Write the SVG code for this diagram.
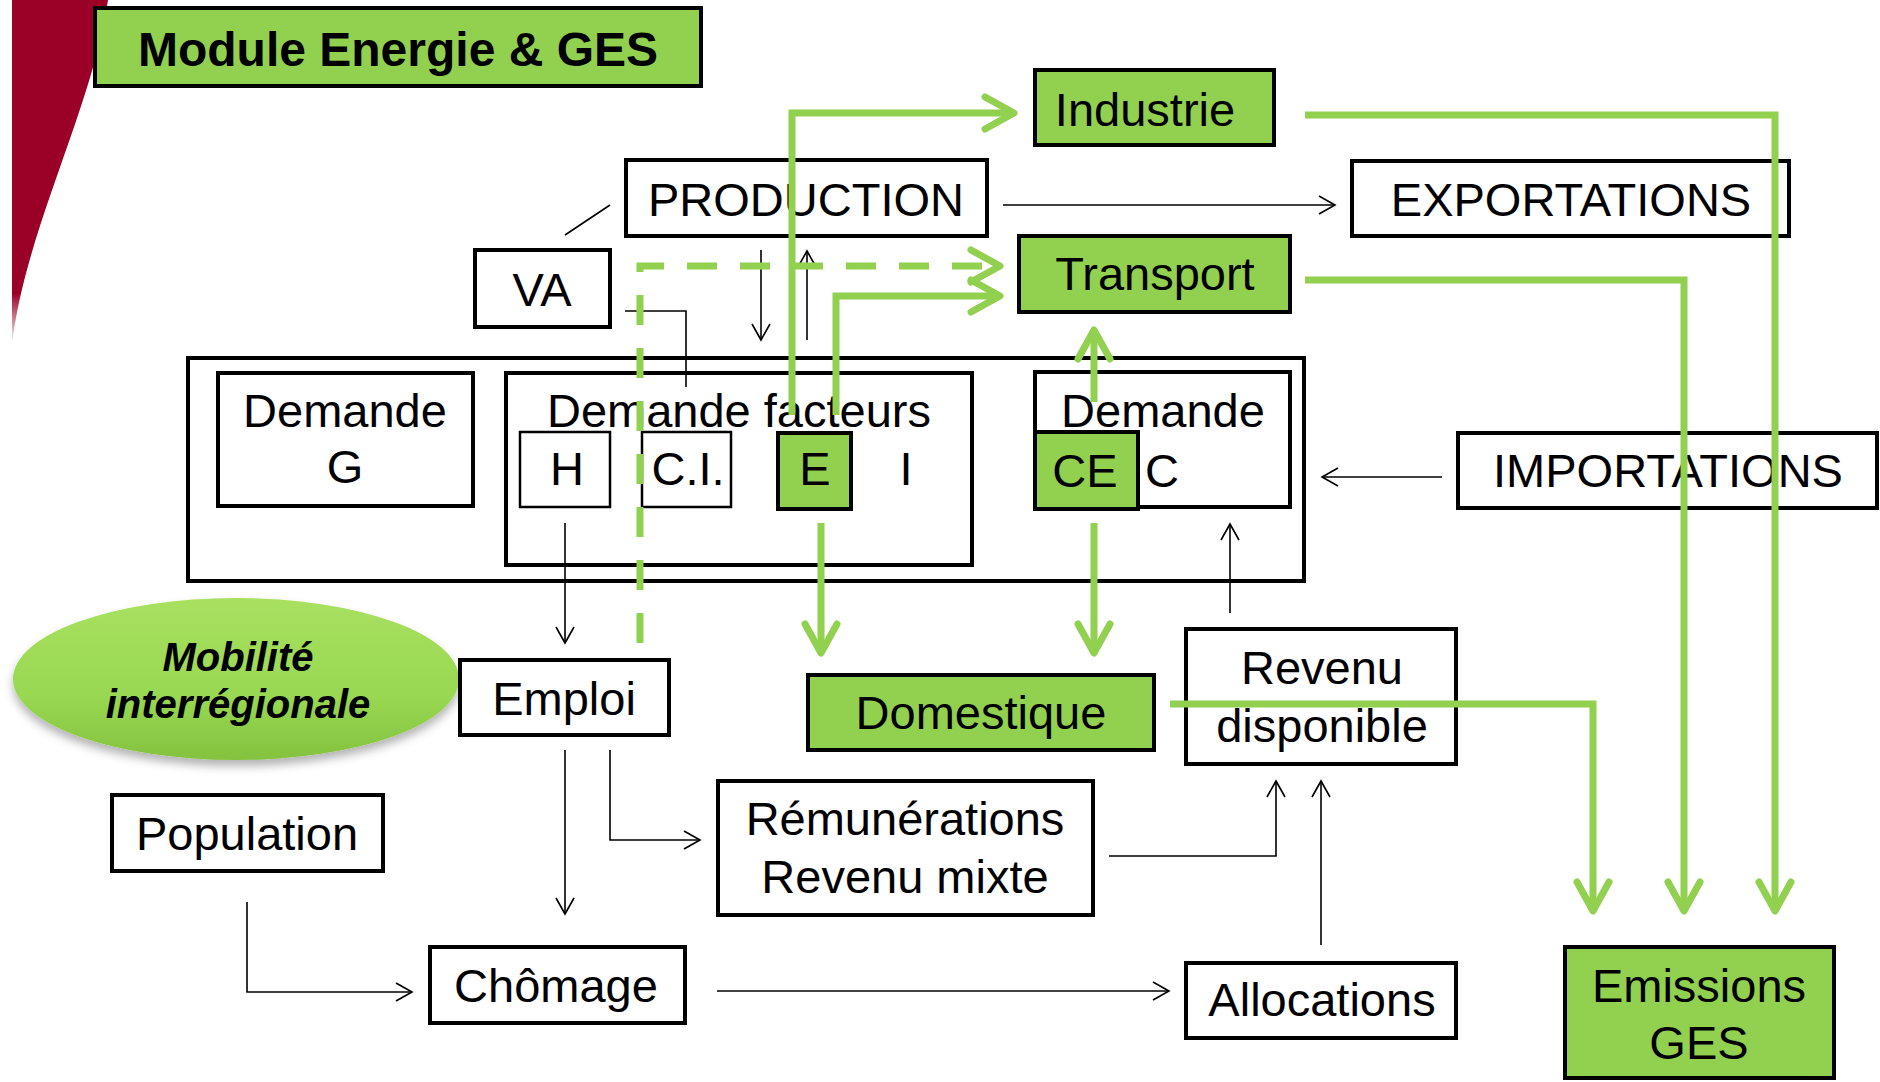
<svg xmlns="http://www.w3.org/2000/svg" width="1880" height="1082" viewBox="0 0 1880 1082">
<defs>
<style>
.box{fill:#fff;stroke:#000;stroke-width:4}
.gbox{fill:#92D050;stroke:#000;stroke-width:4}
.sbox{fill:#fff;stroke:#000;stroke-width:2.5}
.t{font-family:"Liberation Sans",Arial,sans-serif;font-size:47px;fill:#000;text-anchor:middle}
.thin{fill:none;stroke:#000;stroke-width:1.6}
.thinA{fill:none;stroke:#000;stroke-width:1.6;marker-end:url(#ah)}
.g{fill:none;stroke:#92D050;stroke-width:7;marker-end:url(#gh)}
.gd{fill:none;stroke:#92D050;stroke-width:7;stroke-dasharray:30 23;marker-end:url(#gh)}
</style>
<marker id="ah" markerUnits="userSpaceOnUse" viewBox="-20 -12 22 24" refX="0" refY="0" markerWidth="22" markerHeight="24" orient="auto" overflow="visible">
<path d="M-16,-9 L0,0 L-16,9" fill="none" stroke="#000" stroke-width="1.6"/>
</marker>
<marker id="gh" markerUnits="userSpaceOnUse" viewBox="-36 -22 40 44" refX="0" refY="0" markerWidth="40" markerHeight="44" orient="auto" overflow="visible">
<path d="M-29,-16 L0,0 L-29,16" fill="none" stroke="#92D050" stroke-width="7" stroke-linecap="round" stroke-linejoin="round"/>
</marker>
<linearGradient id="redfade" x1="0" y1="0" x2="0" y2="1">
<stop offset="0" stop-color="#9B0026"/>
<stop offset="0.85" stop-color="#9B0026"/>
<stop offset="1" stop-color="#9B0026" stop-opacity="0"/>
</linearGradient>
<linearGradient id="ell" x1="0" y1="0" x2="0" y2="1">
<stop offset="0" stop-color="#A9E060"/>
<stop offset="0.6" stop-color="#98D852"/>
<stop offset="1" stop-color="#84C23F"/>
</linearGradient>
<filter id="sh" x="-10%" y="-20%" width="120%" height="150%">
<feDropShadow dx="0" dy="6" stdDeviation="5" flood-color="#000" flood-opacity="0.3"/>
</filter>
</defs>
<rect width="1880" height="1082" fill="#fff"/>
<path d="M12,0 L108,0 C92,110 25,230 12,345 Z" fill="url(#redfade)"/>

<g id="title"><rect x="95" y="8" width="606" height="78" class="gbox"/><text x="398" y="66" class="t" style="font-weight:bold;font-size:48px">Module Energie &amp; GES</text></g>
<g id="industrie"><rect x="1035" y="70" width="239" height="75" class="gbox"/><text x="1145" y="126" class="t">Industrie</text></g>
<g id="production"><rect x="626" y="160" width="361" height="76" class="box"/><text x="806" y="216" class="t">PRODUCTION</text></g>
<g id="exportations"><rect x="1352" y="161" width="437" height="75" class="box"/><text x="1571" y="216" class="t">EXPORTATIONS</text></g>
<g id="transport"><rect x="1019" y="236" width="271" height="76" class="gbox"/><text x="1155" y="290" class="t">Transport</text></g>
<g id="va"><rect x="475" y="250" width="135" height="77" class="box"/><text x="542" y="306" class="t">VA</text></g>
<g id="demande-block"><rect x="188" y="358" width="1116" height="223" class="box"/></g>
<g id="demande-g"><rect x="218" y="373" width="255" height="133" class="box"/><text x="345" y="427" class="t">Demande</text><text x="345" y="483" class="t">G</text></g>
<g id="demande-facteurs"><rect x="506" y="373" width="466" height="192" class="box"/><text x="739" y="427" class="t">Demande facteurs</text>
<g id="h"><rect x="520" y="432" width="90" height="75" class="sbox"/><text x="567" y="485" class="t">H</text></g>
<g id="ci"><rect x="642" y="432" width="89" height="75" class="sbox"/><text x="688" y="485" class="t">C.I.</text></g>
<g id="e"><rect x="778" y="433" width="73" height="76" class="gbox"/><text x="815" y="485" class="t">E</text></g>
<text x="906" y="485" class="t">I</text></g>
<g id="demande-c"><rect x="1035" y="372" width="255" height="135" class="box"/><text x="1163" y="427" class="t">Demande</text>
<g id="ce"><rect x="1035" y="432" width="103" height="77" class="gbox"/><text x="1085" y="487" class="t">CE</text></g>
<text x="1145" y="487" class="t" style="text-anchor:start">C</text></g>
<g id="importations"><rect x="1458" y="433" width="419" height="75" class="box"/><text x="1668" y="487" class="t">IMPORTATIONS</text></g>
<g id="mobilite"><ellipse cx="236" cy="679" rx="223" ry="81" fill="url(#ell)" filter="url(#sh)"/><text x="238" y="671" class="t" style="font-weight:bold;font-style:italic;font-size:40px">Mobilité</text><text x="238" y="718" class="t" style="font-weight:bold;font-style:italic;font-size:40px">interrégionale</text></g>
<g id="emploi"><rect x="460" y="660" width="209" height="75" class="box"/><text x="564" y="715" class="t">Emploi</text></g>
<g id="domestique"><rect x="808" y="675" width="346" height="75" class="gbox"/><text x="981" y="729" class="t">Domestique</text></g>
<g id="revenu-disponible"><rect x="1186" y="629" width="270" height="135" class="box"/><text x="1322" y="684" class="t">Revenu</text><text x="1322" y="742" class="t">disponible</text></g>
<g id="population"><rect x="112" y="795" width="271" height="76" class="box"/><text x="247" y="850" class="t">Population</text></g>
<g id="remunerations"><rect x="718" y="781" width="375" height="134" class="box"/><text x="905" y="835" class="t">Rémunérations</text><text x="905" y="893" class="t">Revenu mixte</text></g>
<g id="chomage"><rect x="430" y="947" width="255" height="76" class="box"/><text x="556" y="1002" class="t">Chômage</text></g>
<g id="allocations"><rect x="1186" y="963" width="270" height="75" class="box"/><text x="1322" y="1016" class="t">Allocations</text></g>
<g id="emissions"><rect x="1565" y="947" width="269" height="131" class="gbox"/><text x="1699" y="1002" class="t">Emissions</text><text x="1699" y="1059" class="t">GES</text></g>

<g id="connectors">
<path class="thin" d="M565,235 L610,205"/>
<path class="thin" d="M625,311 H686 V387"/>
<path class="thinA" d="M761,250 V340"/>
<path class="thinA" d="M807,340 V251"/>
<path class="thinA" d="M1003,205 H1335"/>
<path class="thinA" d="M1442,477 H1322"/>
<path class="thinA" d="M1230,613 V524"/>
<path class="thinA" d="M565,523 V643"/>
<path class="thinA" d="M565,750 V914"/>
<path class="thinA" d="M610,750 V840 H700"/>
<path class="thinA" d="M247,902 V992 H412"/>
<path class="thinA" d="M717,991 H1169"/>
<path class="thinA" d="M1109,856 H1276 V781"/>
<path class="thinA" d="M1321,945 V781"/>
<path class="g" d="M792,415 V113 H1014"/>
<path class="g" d="M836,415 V296 H1000"/>
<path class="gd" d="M640,643 V266 H1000"/>
<path class="g" d="M1094,402 V330"/>
<path class="g" d="M1094,523 V653"/>
<path class="g" d="M821,523 V653"/>
<path class="g" d="M1170,704 H1593 V911"/>
<path class="g" d="M1305,280 H1684 V911"/>
<path class="g" d="M1305,115 H1775 V911"/>
</g>
</svg>
